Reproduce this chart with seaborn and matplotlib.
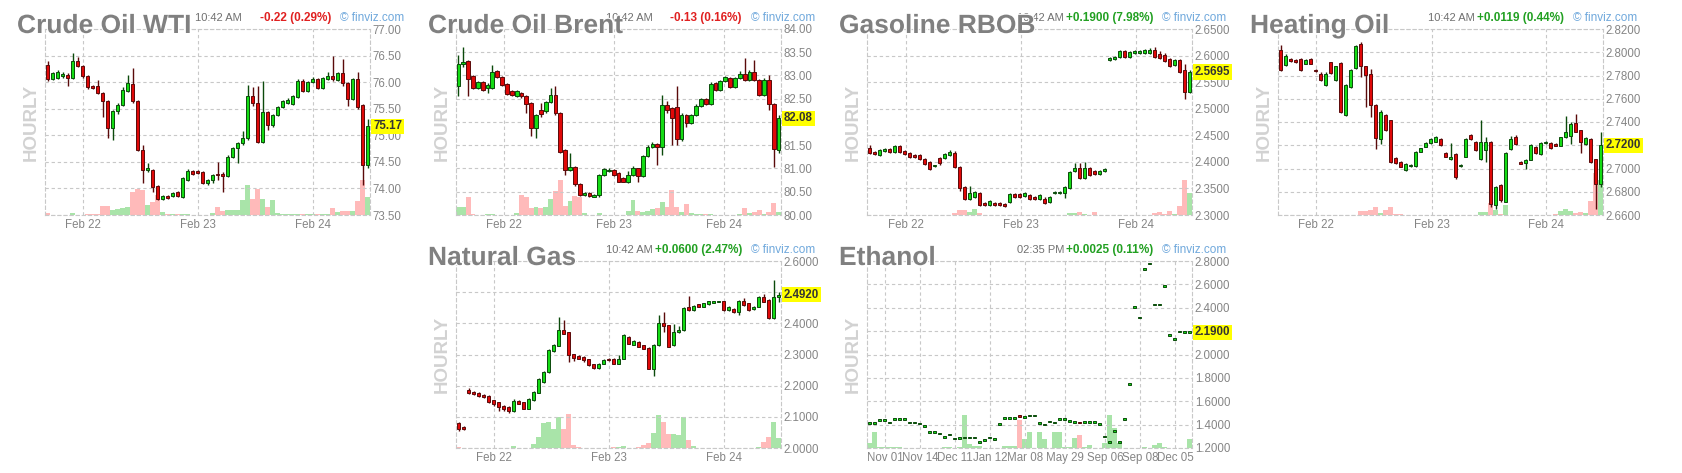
import numpy as np
import pandas as pd
import matplotlib
matplotlib.use("Agg")
import matplotlib.pyplot as plt
import matplotlib.patheffects as pe
from matplotlib.transforms import offset_copy
import seaborn as sns

# ---------------- data ----------------
wti_open = [76.33, 76.06, 76.08, 76.12, 76.14, 76.08, 76.39, 76.30, 76.11, 75.92,
            75.93, 75.80, 75.65, 75.13, 75.45, 75.57, 75.84, 75.97, 75.65, 74.72,
            74.35, 74.35, 74.04, 73.80, 73.86, 73.85, 73.94, 73.84, 74.16, 74.33,
            74.32, 74.30, 74.11, 74.15, 74.28, 74.27, 74.24, 74.60, 74.76, 74.85,
            74.94, 75.73, 75.60, 74.88, 75.44, 75.20, 75.38, 75.54, 75.60, 75.59,
            75.72, 76.03, 75.84, 76.00, 76.06, 75.89, 76.06, 76.12, 76.04, 76.17,
            75.98, 75.68, 76.06, 75.57, 74.45]
wti_close = [76.06, 76.17, 76.20, 76.15, 76.08, 76.39, 76.30, 76.11, 75.90, 75.90,
             75.80, 75.64, 75.13, 75.45, 75.57, 75.85, 75.98, 75.65, 74.72, 74.35,
             74.38, 74.03, 73.80, 73.86, 73.82, 73.92, 73.85, 74.19, 74.33, 74.28,
             74.29, 74.11, 74.15, 74.26, 74.25, 74.24, 74.60, 74.76, 74.85, 74.94,
             75.73, 75.60, 74.88, 75.44, 75.20, 75.38, 75.54, 75.64, 75.66, 75.73,
             76.03, 75.83, 76.00, 76.06, 75.89, 76.07, 76.12, 76.05, 76.18, 75.98,
             75.68, 76.06, 75.54, 74.45, 75.17]
wti_high = [76.40, 76.20, 76.23, 76.20, 76.17, 76.55, 76.47, 76.32, 76.13, 75.95,
            76.04, 75.82, 75.67, 75.48, 75.60, 75.90, 76.14, 76.26, 75.67, 74.82,
            74.47, 74.37, 74.06, 73.88, 73.88, 73.94, 73.96, 74.22, 74.36, 74.34,
            74.34, 74.32, 74.18, 74.28, 74.50, 74.30, 74.62, 74.78, 74.88, 75.08,
            75.95, 75.91, 75.92, 76.02, 75.46, 75.40, 75.56, 75.66, 75.70, 75.76,
            76.06, 76.06, 76.02, 76.10, 76.08, 76.10, 76.20, 76.49, 76.20, 76.44,
            76.00, 76.08, 76.20, 75.59, 75.30]
wti_low = [76.02, 76.04, 76.06, 76.08, 75.92, 76.05, 76.28, 76.08, 75.88, 75.87,
           75.78, 75.34, 74.94, 74.91, 75.40, 75.55, 75.82, 75.60, 74.70, 74.11,
           74.30, 73.94, 73.78, 73.78, 73.80, 73.83, 73.83, 73.82, 74.14, 74.26,
           74.27, 74.08, 74.06, 74.10, 74.15, 73.94, 74.22, 74.58, 74.47, 74.82,
           74.92, 75.55, 74.85, 74.85, 75.10, 75.15, 75.36, 75.52, 75.58, 75.57,
           75.70, 75.81, 75.82, 75.98, 75.87, 75.87, 76.04, 76.03, 76.02, 75.92,
           75.55, 75.66, 75.50, 74.06, 74.38]
wti_vol = [5, 1, 1, 1, 1, 5, 0, 0, 2, 2,
           3, 27, 27, 15, 18, 20, 23, 70, 77, 75,
           30, 40, 60, 10, 3, 3, 3, 3, 4, 1,
           1, 1, 1, 7, 23, 13, 15, 15, 15, 45,
           90, 47, 79, 48, 25, 45, 5, 2, 2, 2,
           2, 2, 2, 2, 2, 2, 3, 20, 10, 13,
           13, 13, 42, 105, 55]
wti_ticks = [73.50, 74.00, 74.50, 75.00, 75.50, 76.00, 76.50, 77.00]
wti_days = [7.1, 30.1, 53.1]

brent_open = [82.78, 83.25, 83.32, 82.98, 82.73, 82.87, 82.73, 82.73, 83.09, 82.97,
              82.82, 82.66, 82.56, 82.62, 82.56, 82.41, 81.87, 82.26, 82.23, 82.44,
              82.59, 82.19, 81.40, 80.97, 81.04, 80.67, 80.43, 80.48, 80.40, 80.42,
              80.86, 80.95, 80.97, 80.90, 80.80, 80.72, 80.86, 81.00, 80.84, 81.26,
              81.47, 81.53, 81.47, 82.37, 82.30, 82.33, 81.63, 82.15, 81.98, 82.15,
              82.35, 82.49, 82.39, 82.84, 82.68, 82.88, 82.94, 82.75, 82.94, 83.03,
              82.91, 83.08, 82.91, 82.58, 82.91, 82.39, 81.40]
brent_close = [83.25, 83.30, 82.93, 82.73, 82.85, 82.69, 82.80, 83.07, 82.97, 82.80,
               82.61, 82.58, 82.66, 82.55, 82.39, 81.87, 82.15, 82.17, 82.44, 82.59,
               82.19, 81.36, 80.97, 81.03, 80.67, 80.43, 80.48, 80.40, 80.43, 80.86,
               80.98, 80.97, 80.86, 80.72, 80.72, 80.86, 81.00, 80.84, 81.26, 81.47,
               81.53, 81.47, 82.37, 82.26, 82.08, 81.63, 82.15, 81.98, 82.15, 82.35,
               82.49, 82.39, 82.82, 82.68, 82.89, 82.96, 82.75, 82.94, 83.03, 82.90,
               83.08, 82.91, 82.58, 82.91, 82.39, 81.42, 82.08]
brent_high = [83.45, 83.61, 83.34, 83.00, 82.88, 82.89, 82.84, 83.23, 83.12, 82.98,
              82.84, 82.68, 82.68, 82.64, 82.58, 82.43, 82.18, 82.40, 82.46, 82.73,
              82.77, 82.21, 81.42, 81.34, 81.06, 80.69, 80.50, 80.50, 80.45, 80.88,
              81.00, 81.00, 80.99, 80.92, 80.82, 80.95, 81.05, 81.02, 81.30, 81.50,
              81.56, 81.55, 82.57, 82.46, 82.32, 82.77, 82.20, 82.17, 82.18, 82.38,
              82.52, 82.51, 82.85, 82.86, 82.91, 82.98, 82.96, 82.97, 83.10, 83.38,
              83.12, 83.34, 82.93, 82.94, 83.02, 82.41, 82.15]
brent_low = [82.56, 83.18, 82.55, 82.70, 82.70, 82.66, 82.62, 82.70, 82.94, 82.78,
             82.58, 82.55, 82.54, 82.52, 82.20, 81.69, 81.65, 82.10, 82.20, 82.40,
             82.15, 81.33, 80.85, 80.95, 80.63, 80.41, 80.41, 80.38, 80.38, 80.38,
             80.84, 80.93, 80.84, 80.70, 80.70, 80.68, 80.84, 80.70, 80.82, 81.24,
             81.45, 81.08, 81.30, 82.20, 81.50, 81.50, 81.60, 81.90, 81.95, 82.13,
             82.33, 82.36, 82.37, 82.66, 82.66, 82.86, 82.73, 82.73, 82.92, 82.88,
             82.88, 82.89, 82.56, 82.56, 82.25, 81.04, 81.33]
brent_vol = [25, 25, 55, 2, 0, 0, 2, 2, 0, 0,
             0, 0, 7, 60, 55, 20, 23, 20, 23, 47,
             73, 105, 27, 43, 57, 55, 5, 0, 0, 5,
             0, 0, 0, 0, 0, 13, 45, 13, 10, 13,
             17, 20, 40, 23, 75, 25, 10, 33, 5, 2,
             2, 2, 2, 0, 0, 0, 0, 0, 3, 20,
             5, 8, 15, 3, 8, 35, 8]
brent_ticks = [80.00, 80.50, 81.00, 81.50, 82.00, 82.50, 83.00, 83.50, 84.00]
brent_days = [9.3, 32.1, 54.8]

gas_open = [2.426, 2.419, 2.413, 2.421, 2.424, 2.419, 2.429, 2.421, 2.416, 2.413,
            2.413, 2.405, 2.399, 2.392, 2.407, 2.407, 2.413, 2.417, 2.390, 2.353,
            2.331, 2.334, 2.342, 2.322, 2.319, 2.323, 2.322, 2.321, 2.325, 2.339,
            2.339, 2.336, 2.338, 2.334, 2.331, 2.331, 2.325, 2.341, 2.341, 2.341,
            2.350, 2.382, 2.388, 2.369, 2.388, 2.382, 2.378, 2.383, 2.591, 2.593,
            2.597, 2.608, 2.598, 2.605, 2.605, 2.605, 2.605, 2.611, 2.603, 2.602,
            2.593, 2.583, 2.592, 2.572, 2.532]
gas_close = [2.416, 2.415, 2.422, 2.424, 2.419, 2.429, 2.419, 2.415, 2.410, 2.409,
             2.405, 2.396, 2.386, 2.394, 2.397, 2.415, 2.419, 2.390, 2.350, 2.330,
             2.341, 2.344, 2.319, 2.318, 2.326, 2.319, 2.319, 2.317, 2.339, 2.334,
             2.334, 2.342, 2.331, 2.331, 2.338, 2.322, 2.334, 2.343, 2.344, 2.353,
             2.381, 2.388, 2.369, 2.388, 2.375, 2.377, 2.383, 2.387, 2.595, 2.598,
             2.608, 2.598, 2.606, 2.608, 2.608, 2.610, 2.611, 2.597, 2.595, 2.589,
             2.581, 2.592, 2.570, 2.532, 2.5695]
gas_high = [2.432, 2.421, 2.424, 2.426, 2.426, 2.431, 2.431, 2.423, 2.418, 2.415,
            2.415, 2.407, 2.401, 2.395, 2.409, 2.417, 2.423, 2.421, 2.392, 2.355,
            2.355, 2.346, 2.344, 2.324, 2.328, 2.325, 2.324, 2.323, 2.341, 2.341,
            2.341, 2.344, 2.340, 2.336, 2.340, 2.333, 2.336, 2.345, 2.346, 2.355,
            2.383, 2.397, 2.397, 2.400, 2.390, 2.384, 2.385, 2.389, 2.597, 2.600,
            2.610, 2.610, 2.608, 2.610, 2.610, 2.612, 2.615, 2.616, 2.608, 2.604,
            2.595, 2.594, 2.594, 2.585, 2.572]
gas_low = [2.414, 2.413, 2.411, 2.419, 2.417, 2.417, 2.417, 2.413, 2.408, 2.407,
           2.403, 2.394, 2.384, 2.391, 2.395, 2.405, 2.411, 2.388, 2.345, 2.328,
           2.329, 2.332, 2.317, 2.316, 2.317, 2.317, 2.317, 2.315, 2.323, 2.332,
           2.332, 2.334, 2.329, 2.329, 2.329, 2.320, 2.323, 2.339, 2.339, 2.332,
           2.348, 2.380, 2.367, 2.367, 2.373, 2.375, 2.376, 2.381, 2.589, 2.591,
           2.595, 2.596, 2.596, 2.603, 2.603, 2.603, 2.603, 2.595, 2.593, 2.587,
           2.579, 2.581, 2.568, 2.518, 2.530]
gas_vol = [0, 0, 0, 0, 0, 0, 0, 0, 0, 0,
           0, 0, 0, 0, 0, 0, 0, 5, 15, 15,
           10, 17, 5, 1, 1, 1, 1, 1, 1, 1,
           1, 1, 1, 1, 1, 1, 1, 1, 1, 1,
           5, 5, 9, 2, 1, 9, 0, 0, 0, 0,
           0, 0, 0, 0, 0, 0, 0, 7, 9, 2,
           12, 2, 27, 105, 67]
gas_ticks = [2.30, 2.35, 2.40, 2.45, 2.50, 2.55, 2.60, 2.65]
gas_days = [7.2, 30.3, 53.2]

heat_open = [2.8022, 2.7893, 2.7941, 2.7936, 2.7941, 2.7901, 2.7941, 2.7850, 2.7815, 2.7720,
             2.7913, 2.7763, 2.7907, 2.7462, 2.7700, 2.7864, 2.8071, 2.7878, 2.7815, 2.7548,
             2.7252, 2.7462, 2.7413, 2.7088, 2.7060, 2.6988, 2.7022, 2.7022, 2.7146, 2.7189,
             2.7218, 2.7232, 2.7252, 2.7137, 2.7080, 2.7126, 2.7022, 2.7103, 2.7289, 2.7232,
             2.7080, 2.7160, 2.7232, 2.6686, 2.6858, 2.6715, 2.7166, 2.7275, 2.7060, 2.7045,
             2.7074, 2.7189, 2.7126, 2.7218, 2.7223, 2.7212, 2.7195, 2.7269, 2.7281, 2.7390,
             2.7327, 2.7212, 2.7252, 2.7080, 2.6867]
heat_close = [2.7844, 2.7964, 2.7921, 2.7913, 2.7844, 2.7936, 2.7901, 2.7835, 2.7758, 2.7815,
              2.7821, 2.7878, 2.7490, 2.7720, 2.7850, 2.8051, 2.7878, 2.7806, 2.7548, 2.7261,
              2.7490, 2.7332, 2.7060, 2.7045, 2.7016, 2.7039, 2.7031, 2.7146, 2.7174, 2.7223,
              2.7252, 2.7275, 2.7203, 2.7103, 2.7100, 2.6930, 2.7031, 2.7252, 2.7252, 2.7160,
              2.7232, 2.7232, 2.6695, 2.6844, 2.6729, 2.7131, 2.7252, 2.7212, 2.7039, 2.7074,
              2.7203, 2.7131, 2.7218, 2.7232, 2.7174, 2.7195, 2.7269, 2.7310, 2.7384, 2.7318,
              2.7232, 2.7261, 2.7060, 2.6867, 2.7200]
heat_high = [2.8065, 2.7985, 2.7950, 2.7945, 2.7950, 2.7945, 2.7950, 2.7855, 2.7830, 2.7830,
             2.7920, 2.7885, 2.7915, 2.7730, 2.7860, 2.8060, 2.8085, 2.7885, 2.7860, 2.7555,
             2.7500, 2.7470, 2.7420, 2.7095, 2.7065, 2.7045, 2.7035, 2.7150, 2.7180, 2.7230,
             2.7260, 2.7280, 2.7260, 2.7145, 2.7218, 2.7135, 2.7035, 2.7260, 2.7295, 2.7240,
             2.7413, 2.7270, 2.7240, 2.6850, 2.6865, 2.7140, 2.7280, 2.7285, 2.7065, 2.7080,
             2.7210, 2.7195, 2.7225, 2.7240, 2.7230, 2.7218, 2.7275, 2.7450, 2.7400, 2.7470,
             2.7335, 2.7270, 2.7260, 2.7085, 2.7310]
heat_low = [2.7835, 2.7878, 2.7915, 2.7905, 2.7835, 2.7895, 2.7895, 2.7830, 2.7750, 2.7710,
            2.7815, 2.7755, 2.7480, 2.7455, 2.7690, 2.7860, 2.7790, 2.7530, 2.7440, 2.7170,
            2.7210, 2.7320, 2.7050, 2.7040, 2.7010, 2.6980, 2.7015, 2.7015, 2.7140, 2.7185,
            2.7210, 2.7225, 2.7195, 2.7095, 2.7075, 2.6910, 2.7015, 2.7100, 2.7245, 2.7150,
            2.7075, 2.7060, 2.6670, 2.6649, 2.6710, 2.6710, 2.7160, 2.7205, 2.7035, 2.6995,
            2.7070, 2.7125, 2.7120, 2.7210, 2.7170, 2.7190, 2.7190, 2.7265, 2.7210, 2.7310,
            2.7130, 2.7205, 2.7050, 2.6649, 2.6840]
heat_vol = [1, 1, 0, 0, 1, 1, 1, 0, 0, 0,
            0, 0, 1, 0, 0, 0, 13, 13, 15, 23,
            5, 15, 23, 2, 2, 0, 0, 0, 0, 0,
            0, 0, 0, 0, 0, 0, 0, 0, 0, 0,
            8, 8, 35, 15, 3, 30, 0, 0, 0, 0,
            0, 0, 0, 0, 0, 3, 13, 19, 13, 5,
            8, 5, 42, 125, 105]
heat_ticks = [2.66, 2.68, 2.70, 2.72, 2.74, 2.76, 2.78, 2.80, 2.82]
heat_days = [7.0, 30.2, 53.0]

ng_open = [2.081, 2.067, 2.185, 2.180, 2.178, 2.171, 2.167, 2.153, 2.146, 2.135,
           2.132, 2.118, 2.150, 2.146, 2.126, 2.153, 2.178, 2.212, 2.244, 2.311,
           2.328, 2.378, 2.371, 2.300, 2.296, 2.292, 2.285, 2.268, 2.257, 2.271,
           2.287, 2.287, 2.271, 2.287, 2.357, 2.332, 2.341, 2.330, 2.321, 2.255,
           2.330, 2.400, 2.394, 2.330, 2.371, 2.378, 2.453, 2.442, 2.461, 2.453,
           2.461, 2.467, 2.469, 2.471, 2.443, 2.446, 2.435, 2.471, 2.464, 2.446,
           2.453, 2.485, 2.475, 2.416, 2.485]
ng_close = [2.062, 2.060, 2.175, 2.173, 2.167, 2.164, 2.148, 2.142, 2.132, 2.124,
            2.118, 2.150, 2.142, 2.126, 2.156, 2.180, 2.221, 2.244, 2.314, 2.330,
            2.378, 2.367, 2.298, 2.289, 2.287, 2.282, 2.266, 2.257, 2.271, 2.282,
            2.282, 2.271, 2.287, 2.362, 2.335, 2.343, 2.325, 2.319, 2.255, 2.332,
            2.400, 2.392, 2.325, 2.373, 2.378, 2.448, 2.442, 2.456, 2.453, 2.464,
            2.471, 2.471, 2.471, 2.443, 2.453, 2.435, 2.471, 2.459, 2.442, 2.453,
            2.485, 2.469, 2.416, 2.485, 2.492]
ng_high = [2.083, 2.072, 2.192, 2.182, 2.180, 2.173, 2.169, 2.155, 2.148, 2.137,
           2.134, 2.156, 2.153, 2.148, 2.160, 2.182, 2.224, 2.247, 2.318, 2.335,
           2.420, 2.412, 2.373, 2.302, 2.298, 2.294, 2.287, 2.270, 2.273, 2.284,
           2.289, 2.289, 2.300, 2.365, 2.359, 2.345, 2.343, 2.332, 2.323, 2.335,
           2.428, 2.437, 2.396, 2.397, 2.390, 2.451, 2.489, 2.459, 2.463, 2.466,
           2.473, 2.473, 2.473, 2.473, 2.455, 2.448, 2.475, 2.482, 2.466, 2.455,
           2.487, 2.495, 2.477, 2.539, 2.500]
ng_low = [2.055, 2.058, 2.172, 2.170, 2.165, 2.160, 2.145, 2.135, 2.118, 2.120,
          2.112, 2.115, 2.140, 2.124, 2.124, 2.150, 2.176, 2.210, 2.242, 2.309,
          2.326, 2.365, 2.275, 2.280, 2.285, 2.275, 2.264, 2.255, 2.255, 2.269,
          2.280, 2.269, 2.269, 2.285, 2.333, 2.330, 2.323, 2.317, 2.253, 2.232,
          2.328, 2.372, 2.323, 2.328, 2.369, 2.376, 2.440, 2.440, 2.451, 2.451,
          2.459, 2.465, 2.467, 2.441, 2.441, 2.433, 2.426, 2.457, 2.440, 2.444,
          2.451, 2.467, 2.414, 2.414, 2.470]
ng_vol = [3, 1, 1, 1, 1, 0, 1, 1, 1, 1,
          1, 5, 1, 1, 1, 13, 33, 76, 78, 56,
          93, 56, 103, 8, 2, 0, 0, 0, 0, 0,
          0, 2, 2, 5, 0, 0, 3, 8, 16, 45,
          100, 78, 43, 43, 40, 93, 23, 5, 1, 1,
          0, 0, 0, 0, 0, 1, 1, 1, 1, 1,
          3, 18, 33, 78, 30]
ng_ticks = [2.00, 2.10, 2.20, 2.30, 2.40, 2.50, 2.60]
ng_days = [7.1, 30.1, 53.1]

eth_close = [1.415, 1.415, 1.440, 1.440, 1.418, 1.450, 1.450, 1.450, 1.418, 1.418,
             1.410, 1.390, 1.338, 1.338, 1.323, 1.295, 1.315, 1.280, 1.285, 1.290,
             1.290, 1.290, 1.250, 1.266, 1.290, 1.275, 1.404, 1.458, 1.458, 1.458,
             1.466, 1.466, 1.478, 1.478, 1.415, 1.400, 1.427, 1.418, 1.450, 1.450,
             1.430, 1.424, 1.412, 1.424, 1.424, 1.424, 1.406, 1.298, 1.250, 1.343,
             1.250, 1.450, 1.748, 2.404, 2.318, 2.730, 2.780, 2.427, 2.427, 2.585,
             2.169, 2.135, 2.198, 2.190, 2.190]
eth_open = list(eth_close)
eth_open[30] = 1.480
eth_open[42] = 1.425
eth_vol = [16, 48, 3, 3, 3, 3, 3, 0, 0, 0,
           0, 0, 1, 0, 0, 3, 3, 0, 3, 100,
           13, 5, 5, 0, 0, 0, 0, 5, 5, 5,
           83, 26, 48, 0, 48, 26, 0, 48, 48, 3,
           3, 30, 38, 3, 8, 0, 0, 15, 100, 60,
           15, 0, 0, 0, 0, 3, 0, 8, 15, 3,
           0, 0, 0, 0, 26]
eth_ticks = [1.20, 1.40, 1.60, 1.80, 2.00, 2.20, 2.40, 2.60, 2.80]
eth_dates = [3.1, 10.1, 17.1, 24.1, 31.1, 39.1, 47.1, 54.1, 61.1]
eth_date_labels = ["Nov 01", "Nov 14", "Dec 11", "Jan 12", "Mar 08",
                   "May 29", "Sep 06", "Sep 08", "Dec 05"]
feb_labels = ["Feb 22", "Feb 23", "Feb 24"]

# ---------------- style ----------------
sns.set_theme(style="white")
plt.rcParams['font.family'] = ['Liberation Sans', 'DejaVu Sans']

W, H = 1682, 473
fig = plt.figure(figsize=(W / 100, H / 100), dpi=100)
fig.patch.set_facecolor('white')

UP_FILL, UP_EDGE = '#14dc14', '#0b4a0b'
DN_FILL, DN_EDGE = '#e00808', '#5a0a0a'
VOL_UP, VOL_DN = '#a9e4a9', '#ffbaba'
GRID = '#c8c8c8'
LBL = '#858585'
DASH = (0, (3, 2.5))


def fpos(x, y):
    return x / W, 1 - y / H


def panel(box, title, o, c, hi, lo, vol, yticks, fmt, xpos, xlab,
          tm, chg, chg_col, last_txt, last_val):
    L, R, T, B = box
    rect = [L / W, 1 - B / H, (R - L) / W, (B - T) / H]
    o = np.asarray(o, float)
    c = np.asarray(c, float)
    hi = np.maximum(np.asarray(hi, float), np.maximum(o, c))
    lo = np.minimum(np.asarray(lo, float), np.minimum(o, c))
    n = len(c)
    x = np.arange(n)
    up = c >= o

    # volume (seaborn)
    axv = fig.add_axes(rect)
    df = pd.DataFrame({'idx': x, 'vol': vol, 'dir': np.where(up, 'up', 'down')})
    sns.barplot(data=df, x='idx', y='vol', hue='dir',
                palette={'up': VOL_UP, 'down': VOL_DN}, native_scale=True,
                dodge=False, width=1.0, errorbar=None, legend=False,
                saturation=1, linewidth=0, ax=axv)
    axv.set_xlim(-0.5, n - 0.5)
    axv.set_ylim(0, 3 * (B - T))
    axv.axis('off')

    # price
    ax = fig.add_axes(rect)
    ax.patch.set_visible(False)
    ylo, yhi = yticks[0], yticks[-1]
    ax.set_xlim(-0.5, n - 0.5)
    ax.set_ylim(ylo, yhi)
    ax.set_yticks(yticks)
    ax.set_yticklabels([fmt.format(v) for v in yticks])
    ax.yaxis.tick_right()
    ax.set_xticks(xpos)
    ax.set_xticklabels(xlab)
    ax.tick_params(axis='y', length=0, pad=2, labelsize=8.3, labelcolor=LBL)
    ax.tick_params(axis='x', length=0, pad=3, labelsize=8.3, labelcolor=LBL)
    ax.grid(True, color=GRID, lw=0.8, ls=DASH)
    for s in ax.spines.values():
        s.set_visible(True)
        s.set_color(GRID)
        s.set_linewidth(0.8)
        s.set_linestyle(DASH)

    edge = np.where(up, UP_EDGE, DN_EDGE)
    fill = np.where(up, UP_FILL, DN_FILL)
    minh = (yhi - ylo) / (B - T) * 1.6
    ht = np.maximum(np.abs(c - o), minh)
    mid = (o + c) / 2
    ax.vlines(x, lo, hi, colors=edge, lw=1.0, zorder=2)
    ax.bar(x, ht, bottom=mid - ht / 2, width=0.78, color=fill,
           edgecolor=edge, linewidth=0.7, zorder=3)

    trans = offset_copy(ax.get_yaxis_transform(), fig=fig, x=3, y=0, units='dots')
    ax.text(1.0, last_val, last_txt, transform=trans, ha='left', va='center',
            fontsize=8.3, fontweight='bold', color='#333333', zorder=10, clip_on=False,
            bbox=dict(boxstyle='square,pad=0.15', fc='#ffff00', ec='none'))

    # header texts
    fig.text(*fpos(R - 128, T - 11), tm, ha='right', va='center',
             fontsize=8, color='#707070')
    fig.text(*fpos(R - 39, T - 11), chg, ha='right', va='center',
             fontsize=8.5, fontweight='bold', color=chg_col)
    fig.text(*fpos(R + 34, T - 11), '\u00a9 finviz.com', ha='right', va='center',
             fontsize=8.5, color='#6fa8dc')
    fig.text(*fpos(L - 28, T + 4), title, ha='left', va='baseline',
             fontsize=19, fontweight='bold', color='#808080',
             path_effects=[pe.withStroke(linewidth=1.5, foreground='white')])
    fig.text(*fpos(L - 14, (T + B) / 2), 'HOURLY', rotation=90, ha='center',
             va='center', fontsize=13.5, fontweight='bold', color='#d2d2d2')


RED, GREEN = '#e02020', '#22a022'
panel((45, 370, 29, 215), 'Crude Oil WTI', wti_open, wti_close, wti_high, wti_low,
      wti_vol, wti_ticks, '{:.2f}', wti_days, feb_labels,
      '10:42 AM', '-0.22 (0.29%)', RED, '75.17', 75.17)
panel((456, 781, 29, 215), 'Crude Oil Brent', brent_open, brent_close, brent_high,
      brent_low, brent_vol, brent_ticks, '{:.2f}', brent_days, feb_labels,
      '10:42 AM', '-0.13 (0.16%)', RED, '82.08', 82.08)
panel((867, 1192, 29, 215), 'Gasoline RBOB', gas_open, gas_close, gas_high, gas_low,
      gas_vol, gas_ticks, '{:.4f}', gas_days, feb_labels,
      '10:42 AM', '+0.1900 (7.98%)', GREEN, '2.5695', 2.5695)
panel((1278, 1603, 29, 215), 'Heating Oil', heat_open, heat_close, heat_high, heat_low,
      heat_vol, heat_ticks, '{:.4f}', heat_days, feb_labels,
      '10:42 AM', '+0.0119 (0.44%)', GREEN, '2.7200', 2.72)
panel((456, 781, 261, 448), 'Natural Gas', ng_open, ng_close, ng_high, ng_low,
      ng_vol, ng_ticks, '{:.4f}', ng_days, feb_labels,
      '10:42 AM', '+0.0600 (2.47%)', GREEN, '2.4920', 2.492)
panel((867, 1192, 261, 448), 'Ethanol', eth_open, eth_close, eth_open, eth_close,
      eth_vol, eth_ticks, '{:.4f}', eth_dates, eth_date_labels,
      '02:35 PM', '+0.0025 (0.11%)', GREEN, '2.1900', 2.19)

fig.savefig('out.png', dpi=100, facecolor='white')
